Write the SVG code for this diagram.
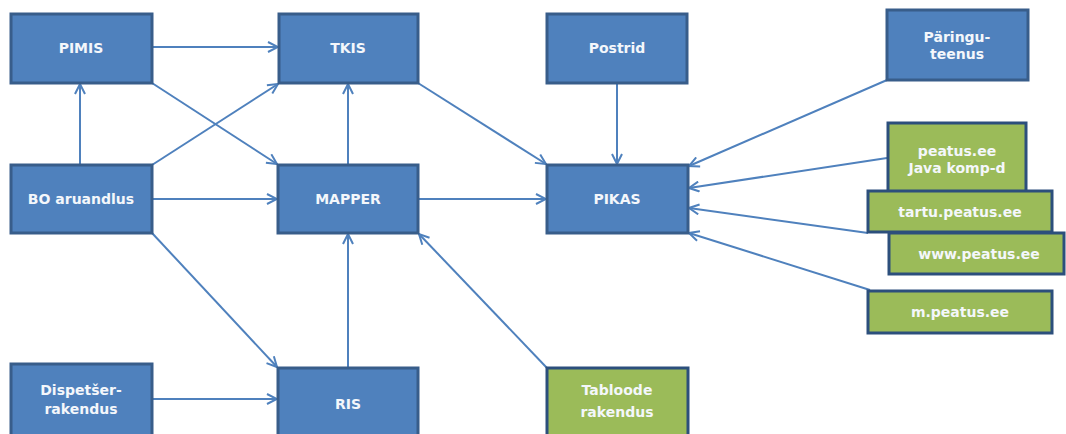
<svg xmlns="http://www.w3.org/2000/svg" width="1066" height="434" viewBox="0 0 1066 434">
  <style>
    .blue { fill: #4f81bd; stroke: #385d8a; stroke-width: 3; }
    .green { fill: #9bbb59; stroke: #2c4f7c; stroke-width: 3; }
    .lbl { font-family: "DejaVu Sans", Verdana, sans-serif; font-size: 14px; font-weight: bold; fill: #f4f7fb; text-anchor: middle; }
    .edge { stroke: #4f81bd; stroke-width: 2; fill: none; marker-end: url(#arr); }
  </style>
  <defs>
    <marker id="arr" viewBox="0 0 12 12" refX="11" refY="6" markerWidth="12" markerHeight="12" markerUnits="userSpaceOnUse" orient="auto">
      <path d="M1,1 L11,6 L1,11" fill="none" stroke="#4f81bd" stroke-width="2"/>
    </marker>
  </defs>
  <rect width="1066" height="434" fill="#ffffff"/>

  <g id="connectors">
    <line class="edge" x1="152" y1="47" x2="278" y2="47"/>
    <line class="edge" x1="152" y1="83" x2="277" y2="164"/>
    <line class="edge" x1="152" y1="165" x2="278" y2="84"/>
    <line class="edge" x1="80" y1="165" x2="80" y2="84"/>
    <line class="edge" x1="152" y1="199" x2="277" y2="199"/>
    <line class="edge" x1="152" y1="233" x2="277" y2="367"/>
    <line class="edge" x1="348" y1="165" x2="348" y2="84"/>
    <line class="edge" x1="418" y1="83" x2="546" y2="164"/>
    <line class="edge" x1="418" y1="199" x2="546" y2="199"/>
    <line class="edge" x1="617" y1="83" x2="617" y2="164"/>
    <line class="edge" x1="348" y1="368" x2="348" y2="234"/>
    <line class="edge" x1="152" y1="399" x2="277" y2="399"/>
    <line class="edge" x1="547" y1="368" x2="419" y2="234"/>
    <line class="edge" x1="887" y1="80" x2="689" y2="166"/>
    <line class="edge" x1="887" y1="158" x2="689" y2="188"/>
    <line class="edge" x1="868" y1="233" x2="689" y2="208"/>
    <line class="edge" x1="870" y1="290" x2="689" y2="233"/>
  </g>

  <g id="pimis">
    <rect class="blue" x="11" y="14" width="141" height="69"/>
    <text class="lbl" x="81" y="53">PIMIS</text>
  </g>
  <g id="tkis">
    <rect class="blue" x="279" y="14" width="139" height="69"/>
    <text class="lbl" x="348" y="53">TKIS</text>
  </g>
  <g id="postrid">
    <rect class="blue" x="547" y="14" width="140" height="69"/>
    <text class="lbl" x="617" y="53">Postrid</text>
  </g>
  <g id="paringuteenus">
    <rect class="blue" x="887" y="10" width="141" height="70"/>
    <text class="lbl" x="957" y="42">Päringu-</text>
    <text class="lbl" x="957" y="59">teenus</text>
  </g>
  <g id="bo-aruandlus">
    <rect class="blue" x="11" y="165" width="141" height="68"/>
    <text class="lbl" x="81" y="204">BO aruandlus</text>
  </g>
  <g id="mapper">
    <rect class="blue" x="278" y="165" width="140" height="68"/>
    <text class="lbl" x="348" y="204">MAPPER</text>
  </g>
  <g id="pikas">
    <rect class="blue" x="547" y="165" width="141" height="68"/>
    <text class="lbl" x="617" y="204">PIKAS</text>
  </g>
  <g id="dispetser">
    <rect class="blue" x="11" y="364" width="141" height="80"/>
    <text class="lbl" x="81" y="395">Dispetšer-</text>
    <text class="lbl" x="81" y="414">rakendus</text>
  </g>
  <g id="ris">
    <rect class="blue" x="278" y="368" width="140" height="76"/>
    <text class="lbl" x="348" y="409">RIS</text>
  </g>
  <g id="tabloode">
    <rect class="green" x="547" y="368" width="141" height="76"/>
    <text class="lbl" x="617" y="395">Tabloode</text>
    <text class="lbl" x="617" y="417">rakendus</text>
  </g>
  <g id="peatus-java">
    <rect class="green" x="888" y="123" width="138" height="70"/>
    <text class="lbl" x="957" y="156">peatus.ee</text>
    <text class="lbl" x="957" y="173">Java komp-d</text>
  </g>
  <g id="tartu-peatus">
    <rect class="green" x="868" y="191" width="184" height="41"/>
    <text class="lbl" x="960" y="217">tartu.peatus.ee</text>
  </g>
  <g id="www-peatus">
    <rect class="green" x="889" y="233" width="175" height="41"/>
    <text class="lbl" x="979" y="259">www.peatus.ee</text>
  </g>
  <g id="m-peatus">
    <rect class="green" x="868" y="291" width="184" height="42"/>
    <text class="lbl" x="960" y="317">m.peatus.ee</text>
  </g>
</svg>
